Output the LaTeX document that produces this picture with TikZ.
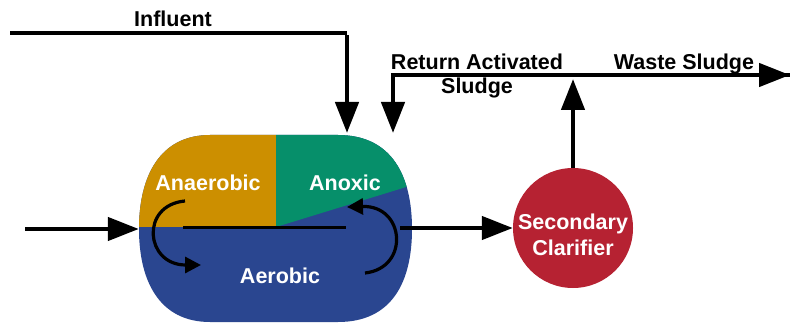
\documentclass[tikz,border=0pt]{standalone}
\usepackage{fontspec}
\setmainfont{Liberation Sans}
\usetikzlibrary{arrows.meta}
\definecolor{anaer}{RGB}{204,143,0}
\definecolor{anox}{RGB}{6,143,106}
\definecolor{aero}{RGB}{42,70,144}
\definecolor{clar}{RGB}{182,34,50}
\tikzset{
  flow/.style={line width=4.5pt,-{Triangle[length=31pt,width=23pt]}},
  plainflow/.style={line width=4.5pt},
  mix/.style={line width=3.2pt,-{Triangle[length=16pt,width=16pt]}},
  lbl/.style={font=\fontsize{21.5}{24}\selectfont\bfseries,anchor=base,inner sep=0pt},
  zone/.style={lbl,text=white},
}
\begin{document}
\begin{tikzpicture}[x=1pt,y=-1pt]
\useasboundingbox (0,0) rectangle (791,323);
% reactor basin and clarifier
\node[minimum width=273pt,minimum height=187pt,inner sep=0pt] (tank) at (275.5,228.5) {};
\node[circle,fill=clar,minimum size=120pt,inner sep=0pt] (clarifier) at (573,228) {};
% zones of the basin, clipped to the rounded outline
\begin{scope}
  \clip (210,135) -- (338,135)
    .. controls (392,135) and (412,176) .. (412,229)
    .. controls (412,282) and (392,322) .. (338,322)
    -- (210,322)
    .. controls (160,322) and (139,282) .. (139,229)
    .. controls (139,176) and (160,135) .. (210,135) -- cycle;
  \fill[aero] (130,130) rectangle (420,330);
  \fill[anaer] (130,130) rectangle (276,227);
  \fill[anox] (276,130) -- (276,227) -- (416,184) -- (416,130) -- cycle;
\end{scope}
% baffle and internal recirculation
\coordinate (bafL) at (183,227);
\coordinate (bafR) at (346,227);
\draw[line width=3pt] (bafL) -- (bafR);
\coordinate (mixLs) at (185,201);
\coordinate (mixLe) at (201,265);
\coordinate (mixRs) at (365,273);
\coordinate (mixRe) at (347,207);
\draw[mix] (mixLs) .. controls (140,205) and (145,265) .. (mixLe);
\draw[mix] (mixRs) .. controls (410,268) and (405,205) .. (mixRe);
% zone labels
\node[zone] (anaerobic) at (208,190) {Anaerobic};
\node[zone] (anoxic) at (345,190) {Anoxic};
\node[zone] (aerobic) at (280,283) {Aerobic};
\node[zone] (sec) at (573,229) {Secondary};
\node[zone] (clf) at (573,255) {Clarifier};
% influent
\coordinate (infStart) at (10,33);
\coordinate (infCorner) at (347,33);
\coordinate (infEnd) at (347,133);
\draw[plainflow] (infStart) -- (infCorner);
\draw[flow] ([yshift=-2.25pt]infCorner) -- (infEnd);
\node[lbl] (influent) at (173,27) {Influent};
% feed and effluent to clarifier
\coordinate (feed) at (25,229);
\draw[flow] (feed) -- (tank.west |- feed);
\coordinate (tankOut) at (400,228);
\draw[flow] (tankOut) -- (clarifier.west);
% sludge lines
\coordinate (rasCorner) at (393,75);
\coordinate (rasEnd) at (393,133);
\coordinate (wasEnd) at (790,75);
\coordinate (upEnd) at (573,79);
\draw[flow] (clarifier.north) -- (upEnd);
\draw[plainflow] ([xshift=-2.25pt]rasCorner) -- (wasEnd |- rasCorner);
\draw[flow] (rasCorner) -- (wasEnd);
\draw[flow] ([yshift=-2.25pt]rasCorner) -- (rasEnd);
\node[lbl] (ras1) at (477,70) {Return Activated};
\node[lbl] (ras2) at (477,94) {Sludge};
\node[lbl] (was) at (684,70) {Waste Sludge};
\end{tikzpicture}
\end{document}
